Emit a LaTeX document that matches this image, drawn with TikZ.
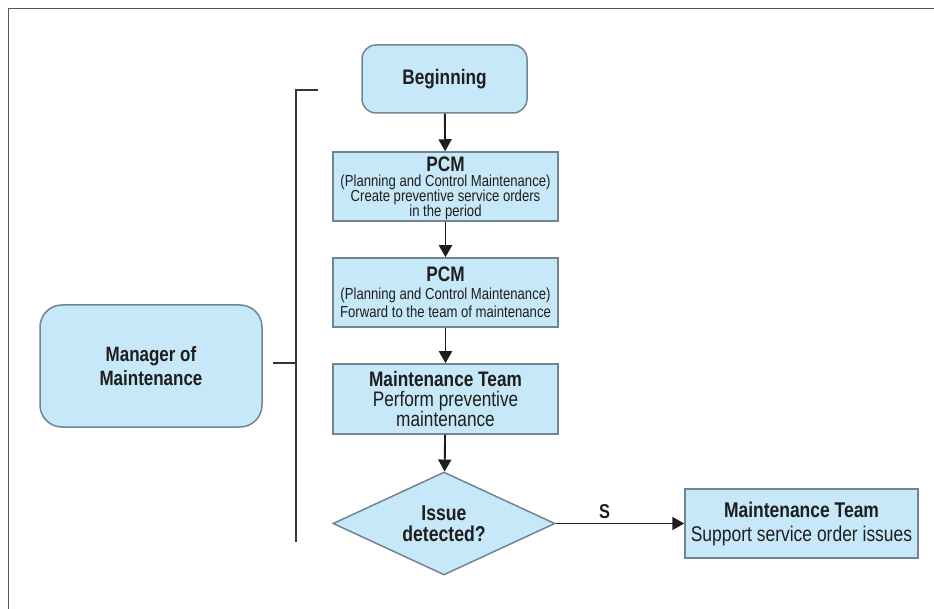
\documentclass[tikz,border=0pt]{standalone}
\usepackage{fontspec}
\setmainfont{Liberation Sans}[FakeStretch=0.82]
\usetikzlibrary{arrows.meta,shapes.geometric}
\definecolor{boxfill}{RGB}{199,232,248}
\definecolor{boxline}{RGB}{112,132,146}
\definecolor{ink}{RGB}{30,30,30}
\definecolor{framegray}{RGB}{85,85,85}
\begin{document}
\begin{tikzpicture}[x=1pt,y=-1pt,
  box/.style={draw=boxline, fill=boxfill, line width=1.5pt, align=center, inner sep=0pt, text=ink},
  rbox/.style={box, rounded corners=14pt},
  sbox/.style={box, minimum width=225pt, minimum height=69pt},
  flow/.style={draw=ink, line width=1.9pt, -{Triangle[length=12pt,width=13pt]}},
  brack/.style={draw=ink!90, line width=1.9pt},
]
\useasboundingbox (0,0) rectangle (934,609);
% outer frame (partially visible)
\draw[framegray, line width=1.3pt] (8.5,609) -- (8.5,8.5) -- (934,8.5);

\node[rbox, minimum width=165pt, minimum height=68pt, font=\fontsize{21}{23}\selectfont\bfseries] (begin) at (444.5,79)
  {Beginning};

\node[sbox, font=\fontsize{16}{15}\selectfont, text depth=0pt] (pcm1) at (445.5,186.5)
  {{\fontsize{21}{20}\selectfont\bfseries PCM}\\[0.5pt]
   (Planning and Control Maintenance)\\
   Create preventive service orders\\
   in the period};

\node[sbox, font=\fontsize{16}{18}\selectfont] (pcm2) at (445.5,292.5)
  {{\fontsize{21}{20}\selectfont\bfseries PCM}\\
   (Planning and Control Maintenance)\\
   Forward to the team of maintenance};

\node[sbox, minimum height=70pt, font=\fontsize{21}{20}\selectfont] (team) at (445.5,399)
  {{\bfseries Maintenance Team}\\
   Perform preventive\\
   maintenance};

\node[box, diamond, aspect=2.2, minimum width=222pt, minimum height=103pt, font=\fontsize{21.5}{21}\selectfont\bfseries] (issue) at (444,523.5)
  {Issue\\detected?};

\node[box, minimum width=233pt, minimum height=69pt, font=\fontsize{21.3}{24}\selectfont] (support) at (801.5,523.5)
  {{\bfseries Maintenance Team}\\
   Support service order issues};

\node[rbox, rounded corners=22pt, minimum width=222pt, minimum height=122pt, font=\fontsize{20.7}{24}\selectfont\bfseries] (manager) at (151,366)
  {Manager of\\Maintenance};

% bracket
\coordinate (btop) at (318,90);
\coordinate (bcorner) at (296,90);
\coordinate (bbot) at (296,542);
\coordinate (bmid) at (296,363);
\coordinate (tick) at (273,363);
\draw[brack] (btop) -- (bcorner) -- (bbot);
\draw[brack] (tick) -- (bmid);

% flow arrows
\draw[flow] (begin) -- (pcm1);
\draw[flow] (pcm1) -- (pcm2);
\draw[flow] (pcm2) -- (team);
\draw[flow] (team) -- (issue);
\draw[flow] (issue.east) -- node[above, pos=0.38, font=\fontsize{20}{22}\selectfont\bfseries, text=ink, yshift=1pt] (slabel) {S} (support.west);
\end{tikzpicture}
\end{document}
